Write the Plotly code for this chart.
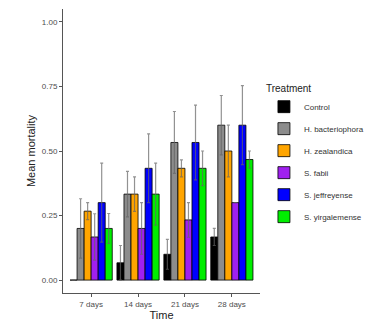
import plotly.graph_objects as go

times = ["7 days", "14 days", "21 days", "28 days"]
treatments = ["Control", "H. bacteriophora", "H. zealandica", "S. fabii", "S. jeffreyense", "S. yirgalemense"]
colors = ["#000000", "#8c8c8c", "#FFA500", "#A020F0", "#0000FF", "#00EE00"]

control = [0.0, 0.067, 0.100, 0.167]
h_bact = [0.200, 0.333, 0.533, 0.600]
h_zeal = [0.267, 0.333, 0.433, 0.500]
s_fabii = [0.167, 0.200, 0.233, 0.300]
s_jeff = [0.300, 0.433, 0.533, 0.600]
s_yirg = [0.200, 0.333, 0.433, 0.467]

se_control = [0.0, 0.067, 0.058, 0.033]
se_h_bact = [0.115, 0.088, 0.120, 0.115]
se_h_zeal = [0.033, 0.067, 0.033, 0.100]
se_s_fabii = [0.090, 0.100, 0.067, 0.0]
se_s_jeff = [0.153, 0.133, 0.145, 0.153]
se_s_yirg = [0.058, 0.120, 0.067, 0.033]

means = [control, h_bact, h_zeal, s_fabii, s_jeff, s_yirg]
ses = [se_control, se_h_bact, se_h_zeal, se_s_fabii, se_s_jeff, se_s_yirg]

fig = go.Figure()
for name, col, m, s in zip(treatments, colors, means, ses):
    fig.add_trace(go.Bar(
        x=times, y=m, name=name, legendgroup=name,
        marker=dict(color=col, line=dict(color="#000000", width=0.8)),
        error_y=dict(type="data", array=s, visible=True,
                     color="rgba(100,100,100,0.7)", thickness=1.2, width=1.5),
    ))

fig.update_layout(
    width=370, height=319,
    margin=dict(l=55, r=118, t=1, b=34),
    paper_bgcolor="white", plot_bgcolor="white",
    barmode="group", bargap=0.1, bargroupgap=0,
    font=dict(family="Liberation Sans, Arial, sans-serif", size=8, color="#4d4d4d"),
    xaxis=dict(
        type="category", range=[-0.6, 3.6],
        showline=True, linecolor="#555555", linewidth=1,
        ticks="outside", ticklen=3, tickcolor="#555555",
        tickfont=dict(size=8, color="#4d4d4d"),
        title=dict(text="Time", font=dict(size=11, color="#222222"), standoff=3),
        showgrid=False, zeroline=False,
    ),
    yaxis=dict(
        range=[-0.05, 1.05],
        tickvals=[0, 0.25, 0.5, 0.75, 1.0],
        ticktext=["0.00", "0.25", "0.50", "0.75", "1.00"],
        showline=True, linecolor="#555555", linewidth=1,
        ticks="outside", ticklen=3, tickcolor="#555555",
        tickfont=dict(size=8, color="#4d4d4d"),
        title=dict(text="Mean mortality", font=dict(size=11, color="#222222"), standoff=3),
        showgrid=False, zeroline=False,
    ),
    legend=dict(
        title=dict(text="Treatment", font=dict(size=10, color="#222222")),
        x=1.02, y=0.753, xanchor="left", yanchor="top",
        font=dict(size=8, color="#333333"),
        tracegroupgap=3, traceorder="grouped",
        bgcolor="rgba(0,0,0,0)",
    ),
)

fig.write_html("out.html")
